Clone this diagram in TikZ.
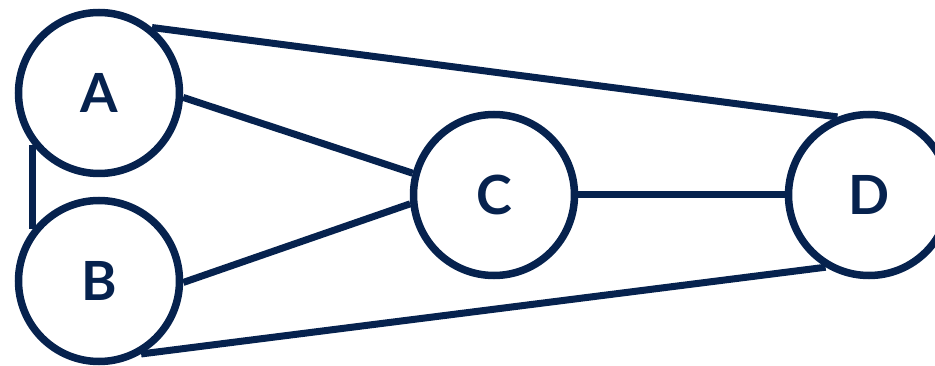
\documentclass[tikz,border=0pt]{standalone}
\usepackage{fontspec}
\setmainfont{Lato}
\definecolor{navy}{HTML}{06224E}
\begin{document}
\begin{tikzpicture}[x=1pt,y=-1pt,
  vertex/.style={circle,draw=navy,line width=7.5pt,minimum size=161pt,inner sep=0pt,
    font=\fontsize{54}{60}\selectfont\bfseries,text=navy},
  link/.style={draw=navy,line width=7pt}]
\useasboundingbox (0,0) rectangle (935,366);
\node[vertex] (A) at (99,93) {A};
\node[vertex] (B) at (99,281) {B};
\node[vertex] (C) at (494,195) {C};
\node[vertex] (D) at (869,195) {D};
\draw[link] (A.218) -- (B.142);
\draw[link] (A.-3) -- (C.165);
\draw[link] (B.-1) -- (C.186);
\draw[link] (C.0) -- (D.180);
\draw[link] (A.51) -- (D.112);
\draw[link] (B.-60) -- (D.239);
\end{tikzpicture}
\end{document}
